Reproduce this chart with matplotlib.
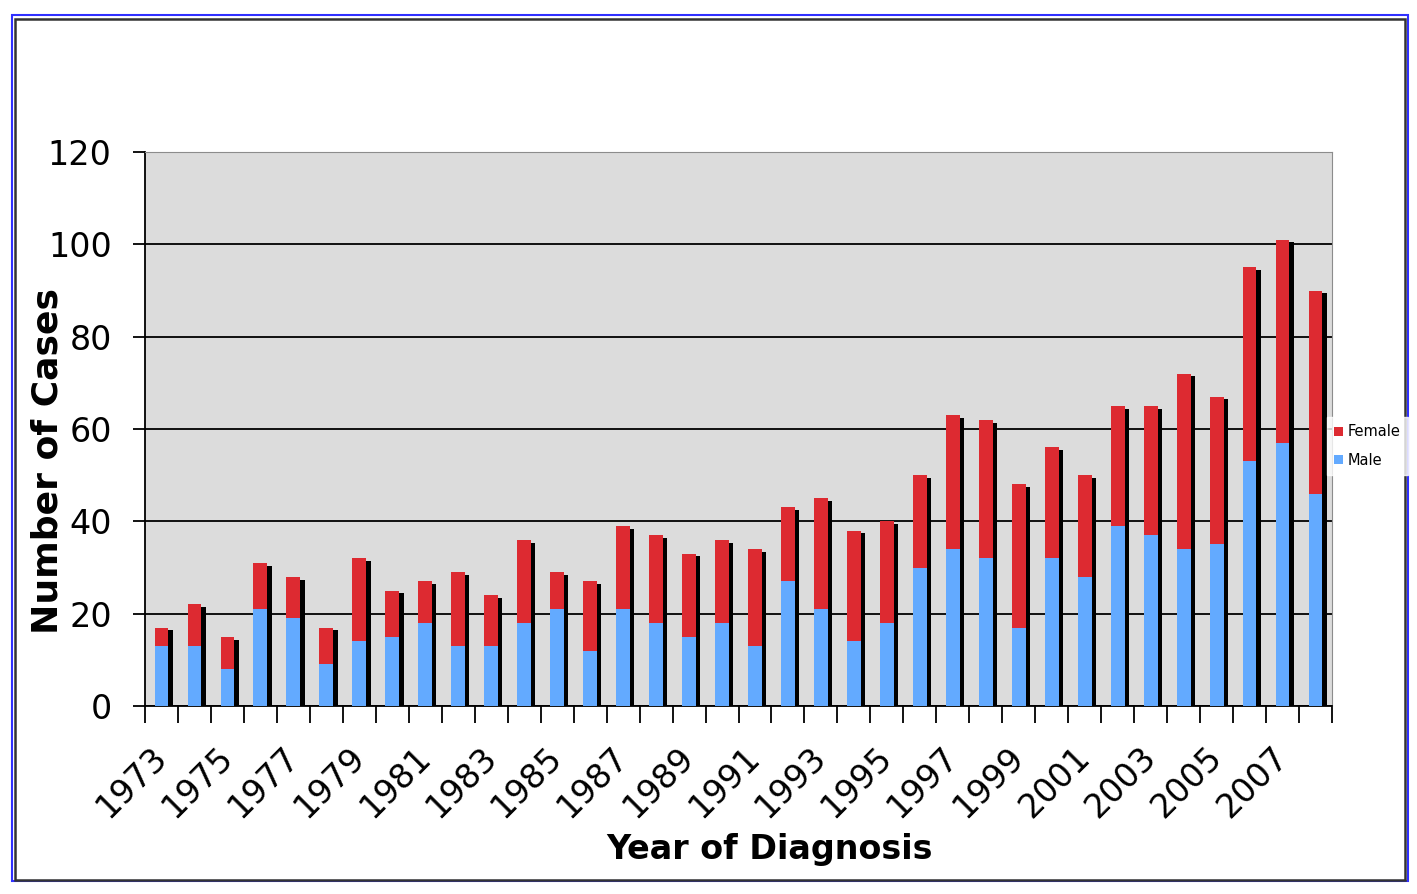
import matplotlib
matplotlib.use('Agg')
import matplotlib.pyplot as plt
import numpy as np
from matplotlib.patches import Rectangle, Patch
from matplotlib.ticker import MultipleLocator, FixedLocator

years = list(range(1973, 2009))
male = [13, 13, 8, 21, 19, 9, 14, 15, 18, 13, 13, 18, 21, 12, 21, 18, 15, 18,
        13, 27, 21, 14, 18, 30, 34, 32, 17, 32, 28, 39, 37, 34, 35, 53, 57, 46]
total = [17, 22, 15, 31, 28, 17, 32, 25, 27, 29, 24, 36, 29, 27, 39, 37, 33, 36,
         34, 43, 45, 38, 40, 50, 63, 62, 48, 56, 50, 65, 65, 72, 67, 95, 101, 90]
female = [t - m for t, m in zip(total, male)]

blue = '#63aaff'
red = '#dd2a31'

plt.rcParams['font.family'] = 'DejaVu Sans'

fig = plt.figure(figsize=(14.17, 8.94), dpi=100)
ax = fig.add_axes([145 / 1417, 1 - 706 / 894, (1332 - 145) / 1417, (706 - 152) / 894])

x = np.arange(len(years))
w = 0.42

# drop shadows behind the bars
ax.bar(x + 0.13, np.array(total) - 0.6, width=w, bottom=0, color='black', zorder=2)
ax.bar(x, male, width=w, color=blue, zorder=3)
ax.bar(x, female, width=w, bottom=male, color=red, zorder=3)

ax.set_facecolor('#dcdcdc')
ax.set_xlim(-0.5, len(years) - 0.5)
ax.set_ylim(0, 120)
ax.yaxis.set_major_locator(MultipleLocator(20))
ax.yaxis.grid(True, color='black', linewidth=1.3, zorder=1)
ax.set_axisbelow(True)

ax.spines['top'].set_color('#8c8c8c')
ax.spines['right'].set_color('#8c8c8c')
ax.spines['left'].set_linewidth(1.3)
ax.spines['bottom'].set_linewidth(1.3)

ax.tick_params(axis='y', direction='out', length=9, width=1.3, labelsize=24, pad=15)

ax.xaxis.set_major_locator(FixedLocator(x[::2]))
ax.set_xticklabels([str(y) for y in years[::2]], rotation=45, ha='right', va='center',
                   rotation_mode='anchor', fontsize=24)
ax.xaxis.set_minor_locator(FixedLocator(np.arange(-0.5, len(years), 1.0)))
ax.tick_params(axis='x', which='major', length=0, pad=33)
ax.tick_params(axis='x', which='minor', direction='out', length=12, width=1.3)

ax.set_xlabel('Year of Diagnosis', fontsize=24, fontweight='bold')
ax.xaxis.set_label_coords(0.5265, -0.229)
ax.set_ylabel('Number of Cases', fontsize=26, fontweight='bold')
ax.yaxis.set_label_coords(-0.068, 0.442)

handles = [Patch(facecolor=red, label='Female'), Patch(facecolor=blue, label='Male')]
fig.legend(handles=handles, loc='center left', bbox_to_anchor=(1327 / 1417, 1 - 446 / 894),
           frameon=True, fancybox=False, edgecolor='white', facecolor='white',
           fontsize=10.5, handlelength=0.6, handleheight=0.6, handletextpad=0.3,
           borderpad=0.5, labelspacing=0.9, borderaxespad=0)

# outer frame of the chart
W, H = 1417, 894
fig.patches.append(Rectangle((12 / W, 1 - 881 / H), (1408 - 12) / W, (881 - 15) / H,
                             transform=fig.transFigure, fill=False, edgecolor='#3030ff',
                             linewidth=1.5))
fig.patches.append(Rectangle((15 / W, 1 - 880 / H), (1405 - 15) / W, (880 - 19) / H,
                             transform=fig.transFigure, fill=False, edgecolor='#333333',
                             linewidth=1.8, zorder=5))

fig.savefig('out.png', dpi=100)
